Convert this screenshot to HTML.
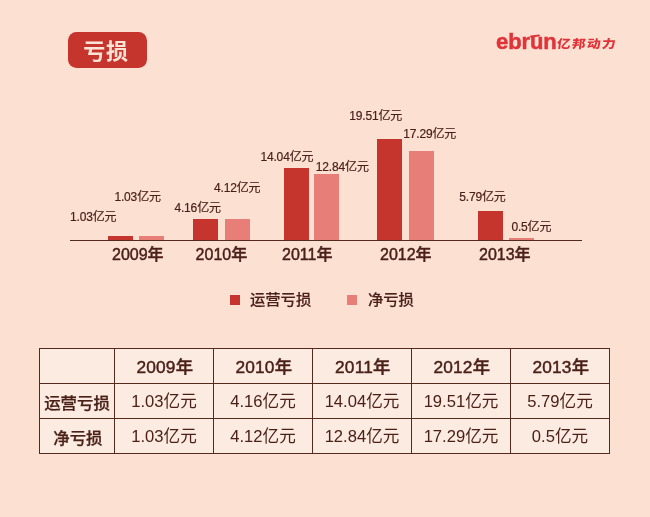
<!DOCTYPE html>
<html lang="zh-CN">
<head>
<meta charset="utf-8">
<title>亏损</title>
<style>
html,body{margin:0;padding:0;}
body{width:650px;height:517px;overflow:hidden;background:#fce1d3;font-family:"Liberation Sans","Noto Sans CJK SC",sans-serif;color:#4a2019;position:relative;}
.abs{position:absolute;white-space:nowrap;line-height:1;}
.badge{left:68px;top:32px;width:79px;height:35.7px;border-radius:8.5px;background:#c5342d;color:#fbe3d5;font-size:22px;font-weight:700;text-align:center;line-height:39.7px;letter-spacing:0.7px;text-indent:-3.2px;}
.logo{left:496.3px;top:27.6px;color:#e0343a;font-weight:700;font-size:22.7px;line-height:26px;-webkit-text-stroke:0.5px #e0343a;}
.logo .en{display:inline-block;transform:scaleX(0.97);transform-origin:0 50%;letter-spacing:-0.1px;}
.logo .cn{position:absolute;left:60.3px;top:8.9px;font-size:11.8px;letter-spacing:1.15px;font-weight:900;line-height:16px;-webkit-text-stroke:0;transform:scaleX(1.16) skewX(-6deg);transform-origin:0 50%;}
.bar{position:absolute;}
.d{background:#c5342d;}
.l{background:#e87e78;}
.axis{position:absolute;left:70px;top:240px;width:512px;height:1px;background:#542a1e;}
.val{font-size:12px;letter-spacing:-0.15px;-webkit-text-stroke:0.2px #4a2019;}
.yr{font-size:16px;font-weight:500;-webkit-text-stroke:0.45px #4a2019;}
.lg{font-size:15.3px;font-weight:500;-webkit-text-stroke:0.15px #4a2019;margin-top:0.5px;}
table{position:absolute;left:39px;top:348px;border-collapse:collapse;background:#fbebe1;table-layout:fixed;}
td{border:1px solid #542a1e;height:34px;padding:0;text-align:center;font-size:16.6px;line-height:34px;width:98px;}
td span{position:relative;top:1.2px;}
td.h span{top:2.1px;}
td.h{width:74px;font-weight:500;font-size:16.4px;-webkit-text-stroke:0.25px #4a2019;}
tr.y td{font-weight:500;font-size:17.3px;letter-spacing:0.2px;-webkit-text-stroke:0.45px #4a2019;}
tr.y td span{left:0.8px;top:0.8px;}
</style>
</head>
<body>
<div class="abs badge">亏损</div>
<div class="bar" style="left:530px;top:34.8px;width:9.5px;height:2.2px;background:#e0343a;border-radius:1px;transform:rotate(-8deg)"></div>
<div class="abs logo"><span class="en">ebrun</span><span class="cn">亿邦动力</span></div>

<div class="bar d" style="left:108px;top:236px;width:25px;height:4px"></div>
<div class="bar l" style="left:139px;top:236px;width:25px;height:4px"></div>
<div class="bar d" style="left:193px;top:219px;width:25px;height:21px"></div>
<div class="bar l" style="left:225px;top:219px;width:25px;height:21px"></div>
<div class="bar d" style="left:284px;top:168px;width:25px;height:72px"></div>
<div class="bar l" style="left:314px;top:174px;width:25px;height:66px"></div>
<div class="bar d" style="left:377px;top:139px;width:25px;height:101px"></div>
<div class="bar l" style="left:409px;top:151px;width:25px;height:89px"></div>
<div class="bar d" style="left:478px;top:211px;width:25px;height:29px"></div>
<div class="bar l" style="left:509px;top:238px;width:25px;height:2px"></div>
<div class="axis"></div>

<div class="abs val" style="left:70px;top:211px">1.03亿元</div>
<div class="abs val" style="left:114.4px;top:191px">1.03亿元</div>
<div class="abs val" style="left:174.4px;top:201.5px">4.16亿元</div>
<div class="abs val" style="left:214px;top:181.5px">4.12亿元</div>
<div class="abs val" style="left:260.4px;top:150.5px">14.04亿元</div>
<div class="abs val" style="left:315.8px;top:161px">12.84亿元</div>
<div class="abs val" style="left:349.2px;top:110px">19.51亿元</div>
<div class="abs val" style="left:403.2px;top:127.5px">17.29亿元</div>
<div class="abs val" style="left:459.2px;top:191px">5.79亿元</div>
<div class="abs val" style="left:511.4px;top:221px">0.5亿元</div>

<div class="abs yr" style="left:112px;top:246.7px">2009年</div>
<div class="abs yr" style="left:195.6px;top:246.7px">2010年</div>
<div class="abs yr" style="left:282px;top:246.7px">2011年</div>
<div class="abs yr" style="left:380px;top:246.7px">2012年</div>
<div class="abs yr" style="left:479px;top:246.7px">2013年</div>

<div class="bar d" style="left:230px;top:295px;width:10px;height:10px"></div>
<div class="abs lg" style="left:250px;top:291px">运营亏损</div>
<div class="bar l" style="left:347px;top:295px;width:10px;height:10px"></div>
<div class="abs lg" style="left:368px;top:291px">净亏损</div>

<table>
<tr class="y"><td class="h"></td><td><span>2009年</span></td><td><span>2010年</span></td><td><span>2011年</span></td><td><span>2012年</span></td><td><span>2013年</span></td></tr>
<tr><td class="h"><span>运营亏损</span></td><td><span>1.03亿元</span></td><td><span>4.16亿元</span></td><td><span>14.04亿元</span></td><td><span>19.51亿元</span></td><td><span>5.79亿元</span></td></tr>
<tr><td class="h"><span style="left:0.9px">净亏损</span></td><td><span>1.03亿元</span></td><td><span>4.12亿元</span></td><td><span>12.84亿元</span></td><td><span>17.29亿元</span></td><td><span>0.5亿元</span></td></tr>
</table>
</body>
</html>
